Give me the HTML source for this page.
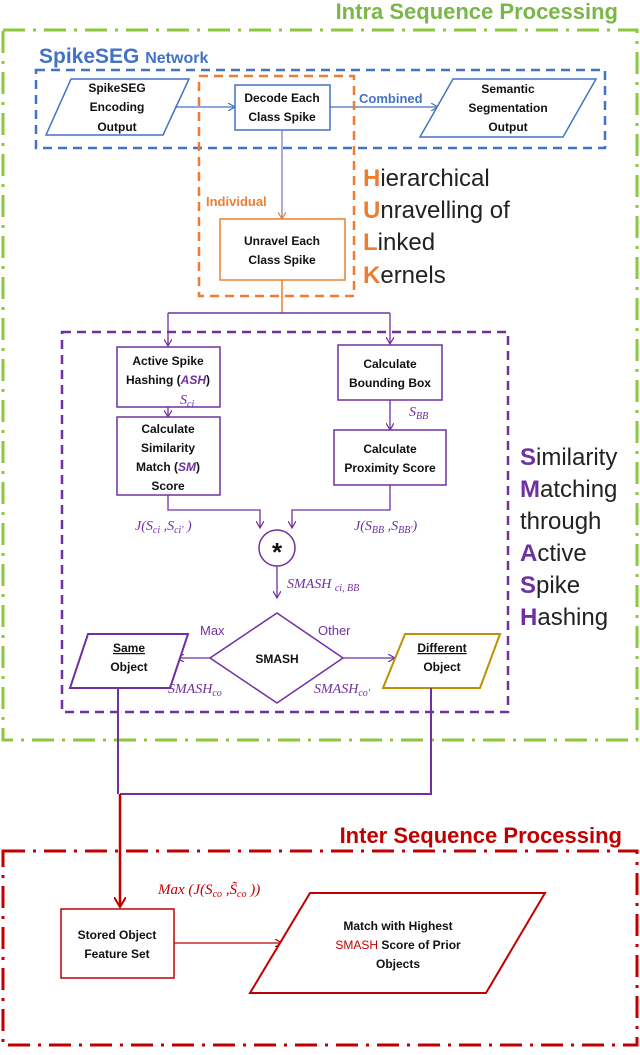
<!DOCTYPE html>
<html><head><meta charset="utf-8"><style>
html,body{margin:0;padding:0;background:#fff;}
svg{display:block;font-family:"Liberation Sans",sans-serif;}
.t{font-size:12px;font-weight:bold;fill:#111;text-anchor:middle;}
.m{font-family:"Liberation Serif",serif;font-style:italic;fill:#7030a0;font-size:14px;}
</style></head><body>
<svg width="640" height="1055" viewBox="0 0 640 1055">
<defs>
<marker id="ab" markerWidth="8" markerHeight="8" refX="7" refY="4" orient="auto" markerUnits="userSpaceOnUse"><path d="M0,0 L7,4 L0,8" fill="none" stroke="#4472c4" stroke-width="1.2"/></marker>
<marker id="ao" markerWidth="8" markerHeight="8" refX="7" refY="4" orient="auto" markerUnits="userSpaceOnUse"><path d="M0,0 L7,4 L0,8" fill="none" stroke="#ed7d31" stroke-width="1.2"/></marker>
<marker id="ap" markerWidth="8" markerHeight="8" refX="7" refY="4" orient="auto" markerUnits="userSpaceOnUse"><path d="M0,0 L7,4 L0,8" fill="none" stroke="#7030a0" stroke-width="1.2"/></marker>
<marker id="ar" markerWidth="12" markerHeight="12" refX="10" refY="6" orient="auto" markerUnits="userSpaceOnUse"><path d="M0,0 L10,6 L0,12" fill="none" stroke="#c00000" stroke-width="2"/></marker>
<marker id="ar2" markerWidth="8" markerHeight="8" refX="7" refY="4" orient="auto" markerUnits="userSpaceOnUse"><path d="M0,0 L7,4 L0,8" fill="none" stroke="#c00000" stroke-width="1.2"/></marker>
</defs>

<text x="618" y="19" text-anchor="end" font-size="22" font-weight="bold" fill="#7ab648">Intra Sequence Processing</text>
<rect x="3" y="30" width="634" height="710" fill="none" stroke="#8dc63f" stroke-width="3" stroke-dasharray="22,8,3,8"/>

<text x="39" y="63" font-size="21" font-weight="bold" fill="#4472c4">SpikeSEG <tspan font-size="16">Network</tspan></text>
<rect x="36" y="70" width="569" height="78" fill="none" stroke="#4472c4" stroke-width="2.5" stroke-dasharray="9,6"/>
<polygon points="46,135 71,79 189,79 163,135" fill="#fff" stroke="#4472c4" stroke-width="1.5"/>
<text class="t" x="117" y="92">SpikeSEG</text><text class="t" x="117" y="111">Encoding</text><text class="t" x="117" y="131">Output</text>
<line x1="175" y1="107" x2="235" y2="107" stroke="#4472c4" stroke-width="1.3" marker-end="url(#ab)"/>
<rect x="235" y="85" width="95" height="45" fill="#fff" stroke="#4472c4" stroke-width="1.5"/>
<text class="t" x="282" y="102">Decode Each</text><text class="t" x="282" y="121">Class Spike</text>
<line x1="330" y1="107" x2="438" y2="107" stroke="#4472c4" stroke-width="1.3" marker-end="url(#ab)"/>
<text x="359" y="103" font-size="13" font-weight="bold" fill="#4472c4">Combined</text>
<polygon points="420,137 453,79 596,79 563,137" fill="#fff" stroke="#4472c4" stroke-width="1.5"/>
<text class="t" x="508" y="93">Semantic</text><text class="t" x="508" y="112">Segmentation</text><text class="t" x="508" y="131">Output</text>

<rect x="199" y="76" width="155" height="220" fill="none" stroke="#ed7d31" stroke-width="2.5" stroke-dasharray="9,6"/>
<line x1="282" y1="130" x2="282" y2="219" stroke="#7f7fbf" stroke-width="1.3" marker-end="url(#ao)"/>
<text x="206" y="206" font-size="13" font-weight="bold" fill="#ed7d31">Individual</text>
<rect x="220" y="219" width="125" height="61" fill="#fff" stroke="#ed7d31" stroke-width="1.5"/>
<text class="t" x="282" y="245">Unravel Each</text><text class="t" x="282" y="264">Class Spike</text>
<g font-size="24" fill="#222">
<text x="363" y="186"><tspan fill="#ed7d31" font-weight="bold">H</tspan>ierarchical</text>
<text x="363" y="218"><tspan fill="#ed7d31" font-weight="bold">U</tspan>nravelling of</text>
<text x="363" y="250"><tspan fill="#ed7d31" font-weight="bold">L</tspan>inked</text>
<text x="363" y="283"><tspan fill="#ed7d31" font-weight="bold">K</tspan>ernels</text>
</g>

<path d="M282,280 V313" stroke="#ed7d31" stroke-width="1.5" fill="none"/>
<path d="M168,313 H390" stroke="#7030a0" stroke-width="1.5" fill="none"/>
<line x1="168" y1="313" x2="168" y2="346" stroke="#7030a0" stroke-width="1.3" marker-end="url(#ap)"/>
<line x1="390" y1="313" x2="390" y2="344" stroke="#7030a0" stroke-width="1.3" marker-end="url(#ap)"/>

<rect x="62" y="332" width="446" height="380" fill="none" stroke="#7030a0" stroke-width="2.5" stroke-dasharray="9,6"/>
<rect x="117" y="347" width="103" height="60" fill="#fff" stroke="#7030a0" stroke-width="1.5"/>
<text class="t" x="168" y="365">Active Spike</text><text class="t" x="168" y="384">Hashing (<tspan fill="#7030a0" font-style="italic">ASH</tspan>)</text>
<line x1="168" y1="407" x2="168" y2="417" stroke="#7030a0" stroke-width="1.3" marker-end="url(#ap)"/>
<text class="m" x="180" y="404">S<tspan font-size="10" dy="3">ci</tspan></text>
<rect x="117" y="417" width="103" height="78" fill="#fff" stroke="#7030a0" stroke-width="1.5"/>
<text class="t" x="168" y="433">Calculate</text><text class="t" x="168" y="452">Similarity</text><text class="t" x="168" y="471">Match (<tspan fill="#7030a0" font-style="italic">SM</tspan>)</text><text class="t" x="168" y="490">Score</text>

<rect x="338" y="345" width="104" height="55" fill="#fff" stroke="#7030a0" stroke-width="1.5"/>
<text class="t" x="390" y="368">Calculate</text><text class="t" x="390" y="387">Bounding Box</text>
<line x1="390" y1="400" x2="390" y2="430" stroke="#7030a0" stroke-width="1.3" marker-end="url(#ap)"/>
<text class="m" x="409" y="416">S<tspan font-size="10" dy="3">BB</tspan></text>
<rect x="334" y="430" width="112" height="55" fill="#fff" stroke="#7030a0" stroke-width="1.5"/>
<text class="t" x="390" y="453">Calculate</text><text class="t" x="390" y="472">Proximity Score</text>

<path d="M168,495 V510 H260 V528" stroke="#7030a0" stroke-width="1.3" fill="none" marker-end="url(#ap)"/>
<path d="M390,485 V510 H292 V528" stroke="#7030a0" stroke-width="1.3" fill="none" marker-end="url(#ap)"/>
<text class="m" x="135" y="530" font-size="15">J(S<tspan font-size="10" dy="3">ci</tspan><tspan dy="-3"> ,S</tspan><tspan font-size="10" dy="3">ci'</tspan><tspan dy="-3"> )</tspan></text>
<text class="m" x="354" y="530" font-size="15">J(S<tspan font-size="10" dy="3">BB</tspan><tspan dy="-3"> ,S</tspan><tspan font-size="10" dy="3">BB'</tspan><tspan dy="-3">)</tspan></text>
<circle cx="277" cy="548" r="18" fill="#fff" stroke="#7030a0" stroke-width="1.5"/>
<text x="277" y="561" text-anchor="middle" font-size="26" font-weight="bold" fill="#111">*</text>
<line x1="277" y1="566" x2="277" y2="598" stroke="#7030a0" stroke-width="1.3" marker-end="url(#ap)"/>
<text class="m" x="287" y="588">SMASH <tspan font-size="10" dy="3">ci, BB</tspan></text>

<polygon points="277,613 343,658 277,703 210,658" fill="#fff" stroke="#7030a0" stroke-width="1.5"/>
<text class="t" x="277" y="663" font-size="13">SMASH</text>
<text x="200" y="635" font-size="13" fill="#7030a0">Max</text>
<text x="318" y="635" font-size="13" fill="#7030a0">Other</text>
<line x1="210" y1="658" x2="177" y2="658" stroke="#7030a0" stroke-width="1.3" marker-end="url(#ap)"/>
<line x1="343" y1="658" x2="395" y2="658" stroke="#7030a0" stroke-width="1.3" marker-end="url(#ap)"/>
<polygon points="70,688 88,634 188,634 170,688" fill="#fff" stroke="#7030a0" stroke-width="2"/>
<text class="t" x="129" y="652" text-decoration="underline">Same</text><text class="t" x="129" y="671">Object</text>
<polygon points="383,688 405,634 500,634 480,688" fill="#fff" stroke="#bf9000" stroke-width="2"/>
<text class="t" x="442" y="652" text-decoration="underline">Different</text><text class="t" x="442" y="671">Object</text>
<text class="m" x="168" y="693">SMASH<tspan font-size="10" dy="3">co</tspan></text>
<text class="m" x="314" y="693">SMASH<tspan font-size="10" dy="3">co'</tspan></text>

<g font-size="24" fill="#222">
<text x="520" y="465"><tspan fill="#7030a0" font-weight="bold">S</tspan>imilarity</text>
<text x="520" y="497"><tspan fill="#7030a0" font-weight="bold">M</tspan>atching</text>
<text x="520" y="529">through</text>
<text x="520" y="561"><tspan fill="#7030a0" font-weight="bold">A</tspan>ctive</text>
<text x="520" y="593"><tspan fill="#7030a0" font-weight="bold">S</tspan>pike</text>
<text x="520" y="625"><tspan fill="#7030a0" font-weight="bold">H</tspan>ashing</text>
</g>

<path d="M118,688 V794" stroke="#7030a0" stroke-width="2" fill="none"/>
<path d="M431,688 V794 H120" stroke="#7030a0" stroke-width="2" fill="none"/>
<line x1="120" y1="794" x2="120" y2="907" stroke="#c00000" stroke-width="2.5" marker-end="url(#ar)"/>

<text x="622" y="843" text-anchor="end" font-size="22" font-weight="bold" fill="#c00000">Inter Sequence Processing</text>
<rect x="3" y="851" width="634" height="194" fill="none" stroke="#c00000" stroke-width="3" stroke-dasharray="22,8,3,8"/>
<text x="158" y="894" font-family="Liberation Serif,serif" font-style="italic" font-size="15" fill="#c00000">Max (J(S<tspan font-size="10" dy="3">co</tspan><tspan dy="-3"> ,S̃</tspan><tspan font-size="10" dy="3">co</tspan><tspan dy="-3"> ))</tspan></text>
<rect x="61" y="909" width="113" height="69" fill="#fff" stroke="#c00000" stroke-width="1.5"/>
<text class="t" x="117" y="939">Stored Object</text><text class="t" x="117" y="958">Feature Set</text>
<line x1="174" y1="943" x2="282" y2="943" stroke="#c00000" stroke-width="1.3" marker-end="url(#ar2)"/>
<polygon points="250,993 310,893 545,893 486,993" fill="#fff" stroke="#c00000" stroke-width="2"/>
<text class="t" x="398" y="930">Match with Highest</text>
<text class="t" x="398" y="949"><tspan fill="#c00000" font-weight="normal">SMASH</tspan> Score of Prior</text>
<text class="t" x="398" y="968">Objects</text>
</svg>
</body></html>
